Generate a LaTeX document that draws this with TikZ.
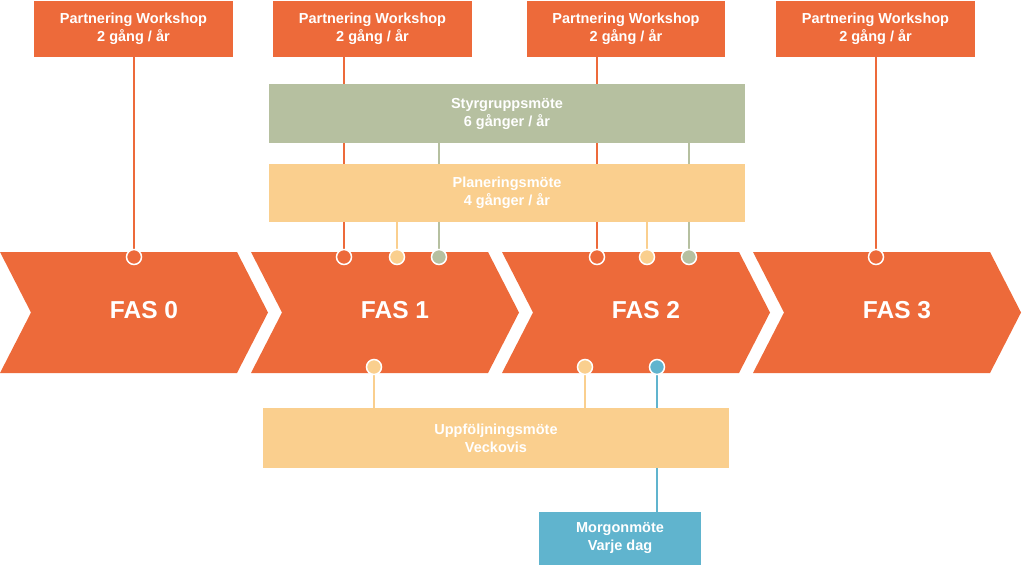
\documentclass[tikz,border=0pt]{standalone}
\usepackage{fontspec}
\setmainfont{Liberation Sans}
\usetikzlibrary{backgrounds}
\definecolor{fasorange}{RGB}{237,106,58}
\definecolor{styrgreen}{RGB}{182,192,160}
\definecolor{planyellow}{RGB}{250,207,142}
\definecolor{morgonblue}{RGB}{96,180,206}

\begin{document}
\begin{tikzpicture}[x=1pt,y=-1pt,
    box/.style={rectangle,align=center,text=white,font=\bfseries\fontsize{14.5}{18}\selectfont,inner sep=0pt},
    dot/.style={circle,draw=white,line width=1.5pt,minimum size=15pt,inner sep=0pt},
    link/.style={line width=2.5pt}]
    \useasboundingbox (0,0) rectangle (1024,587);
    % phases
    \foreach \i in {0,1,2,3} {
      \pgfmathsetmacro{\L}{251*\i}
      \fill[fasorange] (\L,252) -- ++(237,0) -- ++(31,60.5) -- ++(-31,60.5) -- ++(-237,0) -- ++(31,-60.5) -- cycle;
      \node[text=white,font=\bfseries\fontsize{24.5}{28}\selectfont] (fas\i) at (\L+144,310) {FAS \i};
    }
    % boxes
    \node[box,fill=fasorange,minimum width=199pt,minimum height=56pt] (pw1) at (133.5,29) {Partnering Workshop\\2 gång / år};
    \node[box,fill=fasorange,minimum width=199pt,minimum height=56pt] (pw2) at (372.5,29) {Partnering Workshop\\2 gång / år};
    \node[box,fill=fasorange,minimum width=198pt,minimum height=56pt] (pw3) at (626,29) {Partnering Workshop\\2 gång / år};
    \node[box,fill=fasorange,minimum width=199pt,minimum height=56pt] (pw4) at (875.5,29) {Partnering Workshop\\2 gång / år};
    \node[box,fill=styrgreen,minimum width=476pt,minimum height=59pt] (styr) at (507,113.5) {Styrgruppsmöte\\6 gånger / år};
    \node[box,fill=planyellow,minimum width=476pt,minimum height=58pt] (plan) at (507,193) {Planeringsmöte\\4 gånger / år};
    \node[box,fill=planyellow,minimum width=466pt,minimum height=60pt] (uppf) at (496,438) {Uppföljningsmöte\\Veckovis};
    \node[box,fill=morgonblue,minimum width=162pt,minimum height=53pt] (morgon) at (620,538.5) {Morgonmöte\\Varje dag};
    % dots
    \node[dot,fill=fasorange] (t0) at (134,257) {};
    \node[dot,fill=fasorange] (t1r) at (344,257) {};
    \node[dot,fill=planyellow] (t1y) at (397,257) {};
    \node[dot,fill=styrgreen] (t1g) at (439,257) {};
    \node[dot,fill=fasorange] (t2r) at (597,257) {};
    \node[dot,fill=planyellow] (t2y) at (647,257) {};
    \node[dot,fill=styrgreen] (t2g) at (689,257) {};
    \node[dot,fill=fasorange] (t3) at (876,257) {};
    \node[dot,fill=planyellow] (b1y) at (374,367) {};
    \node[dot,fill=planyellow] (b2y) at (585,367) {};
    \node[dot,fill=morgonblue] (b2b) at (657,367) {};
    % links
    \begin{scope}[on background layer]
      \draw[link,fasorange] (pw1.south -| t0) -- (t0);
      \draw[link,fasorange] (pw2.south -| t1r) -- (t1r);
      \draw[link,fasorange] (pw3.south -| t2r) -- (t2r);
      \draw[link,fasorange] (pw4.south -| t3) -- (t3);
      \draw[link,styrgreen] (styr.south -| t1g) -- (t1g);
      \draw[link,styrgreen] (styr.south -| t2g) -- (t2g);
      \draw[link,planyellow] (plan.south -| t1y) -- (t1y);
      \draw[link,planyellow] (plan.south -| t2y) -- (t2y);
      \draw[link,planyellow] (b1y) -- (uppf.north -| b1y);
      \draw[link,planyellow] (b2y) -- (uppf.north -| b2y);
      \draw[link,morgonblue] (b2b) -- (morgon.north -| b2b);
    \end{scope}
  \end{tikzpicture}
\end{document}
